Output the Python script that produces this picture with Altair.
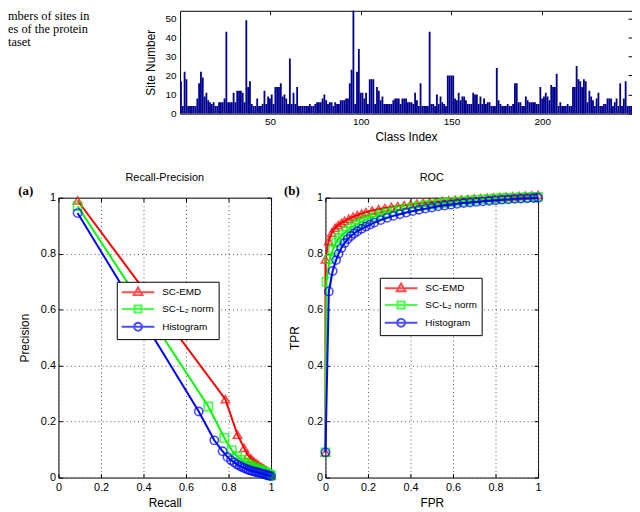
import altair as alt
import pandas as pd

FONT = "Liberation Sans"
SERIF = "Liberation Serif"

# ---------------- data ----------------
caption_lines = ["mbers of sites in", "es of the protein", "taset"]

site_counts = [
    17, 4, 22, 18, 4, 4, 4, 4, 4, 8,
    16, 22, 19, 9, 11, 7, 6, 5, 6, 4,
    4, 6, 6, 6, 8, 43, 6, 6, 6, 11,
    6, 12, 12, 12, 11, 6, 49, 14, 17, 5,
    4, 4, 8, 4, 4, 5, 12, 5, 9, 8,
    10, 5, 14, 14, 14, 16, 9, 10, 8, 5,
    29, 5, 11, 5, 14, 4, 4, 4, 4, 4,
    4, 5, 4, 4, 5, 6, 6, 6, 8, 10,
    7, 5, 6, 6, 4, 6, 5, 5, 7, 7,
    7, 8, 8, 16, 23, 58, 5, 22, 34, 11,
    11, 8, 11, 5, 18, 18, 18, 5, 14, 12,
    7, 9, 5, 5, 5, 5, 5, 7, 8, 8,
    8, 5, 8, 8, 8, 6, 6, 6, 5, 11,
    7, 4, 16, 4, 4, 4, 4, 43, 5, 5,
    4, 10, 5, 9, 6, 5, 4, 20, 20, 20,
    20, 8, 7, 11, 7, 9, 9, 7, 5, 5,
    5, 11, 10, 10, 5, 9, 5, 8, 5, 6,
    6, 4, 4, 4, 24, 7, 5, 4, 4, 4,
    5, 4, 4, 5, 16, 16, 6, 6, 4, 4,
    9, 7, 6, 6, 6, 6, 5, 5, 14, 8,
    9, 11, 9, 7, 15, 14, 14, 21, 4, 6,
    4, 4, 4, 5, 4, 4, 14, 14, 25, 18,
    17, 14, 18, 17, 6, 12, 9, 7, 4, 8,
    11, 4, 4, 5, 5, 8, 8, 8, 4, 6,
    8, 4, 16, 4, 8, 17, 4, 4, 4,
]
class_index = list(range(1, len(site_counts) + 1))
bar_x_ticks = [50, 100, 150, 200]
bar_y_ticks = [0, 10, 20, 30, 40, 50]

series_names = ["SC-EMD", "SC-L\u2082 norm", "Histogram"]

# Recall-Precision
pr_recall = [
    [0.09, 0.785, 0.842, 0.873, 0.891, 0.906, 0.919, 0.93, 0.94, 0.949, 0.957,
     0.964, 0.97, 0.976, 0.981, 0.986, 0.99, 0.994, 0.997, 1.0],
    [0.09, 0.705, 0.78, 0.815, 0.84, 0.86, 0.877, 0.892, 0.905, 0.917, 0.928,
     0.938, 0.947, 0.955, 0.963, 0.97, 0.977, 0.983, 0.989, 0.994, 1.0],
    [0.09, 0.66, 0.733, 0.772, 0.795, 0.812, 0.827, 0.84, 0.852, 0.863, 0.873,
     0.883, 0.893, 0.903, 0.913, 0.923, 0.933, 0.943, 0.953, 0.963, 0.973,
     0.982, 0.991, 1.0],
]
pr_precision = [
    [0.99, 0.28, 0.153, 0.106, 0.08, 0.068, 0.058, 0.051, 0.045, 0.04, 0.036,
     0.032, 0.029, 0.026, 0.023, 0.02, 0.017, 0.014, 0.011, 0.008],
    [0.97, 0.254, 0.142, 0.098, 0.076, 0.063, 0.054, 0.047, 0.042, 0.037, 0.033,
     0.03, 0.027, 0.024, 0.021, 0.019, 0.016, 0.014, 0.011, 0.009, 0.007],
    [0.945, 0.236, 0.133, 0.094, 0.073, 0.062, 0.054, 0.047, 0.042, 0.038, 0.034,
     0.031, 0.028, 0.025, 0.023, 0.021, 0.019, 0.017, 0.015, 0.013, 0.011,
     0.009, 0.007, 0.005],
]

# ROC
roc_fpr = [
    [0.0, 0.0, 0.015, 0.03, 0.045, 0.06, 0.075, 0.09, 0.11, 0.13, 0.15, 0.17,
     0.19, 0.22, 0.25, 0.28, 0.31, 0.34, 0.37, 0.40, 0.43, 0.46, 0.49, 0.52,
     0.55, 0.58, 0.61, 0.64, 0.67, 0.70, 0.73, 0.76, 0.79, 0.82, 0.85, 0.88,
     0.91, 0.94, 0.97, 1.0],
    [0.0, 0.005, 0.02, 0.035, 0.05, 0.065, 0.08, 0.1, 0.12, 0.14, 0.16, 0.18,
     0.2, 0.23, 0.26, 0.29, 0.32, 0.35, 0.38, 0.41, 0.44, 0.47, 0.5, 0.53,
     0.56, 0.59, 0.62, 0.65, 0.68, 0.71, 0.74, 0.77, 0.8, 0.83, 0.86, 0.89,
     0.92, 0.95, 0.98, 1.0],
    [0.0, 0.016, 0.034, 0.05, 0.062, 0.075, 0.09, 0.105, 0.12, 0.135, 0.15,
     0.17, 0.19, 0.21, 0.23, 0.26, 0.29, 0.32, 0.35, 0.38, 0.41, 0.44, 0.47,
     0.5, 0.53, 0.56, 0.59, 0.62, 0.65, 0.68, 0.71, 0.74, 0.77, 0.8, 0.83,
     0.86, 0.89, 0.92, 0.95, 0.98, 1.0],
]
roc_tpr = [
    [0.09, 0.78, 0.845, 0.875, 0.892, 0.902, 0.91, 0.917, 0.925, 0.932, 0.938,
     0.943, 0.948, 0.954, 0.959, 0.963, 0.967, 0.97, 0.973, 0.976, 0.979,
     0.982, 0.984, 0.986, 0.988, 0.99, 0.992, 0.994, 0.995, 0.997, 0.998, 1.0,
     1.001, 1.002, 1.004, 1.005, 1.006, 1.007, 1.008, 1.01],
    [0.09, 0.70, 0.78, 0.815, 0.84, 0.856, 0.868, 0.88, 0.892, 0.902, 0.91,
     0.918, 0.925, 0.933, 0.94, 0.946, 0.951, 0.956, 0.961, 0.965, 0.969,
     0.972, 0.975, 0.978, 0.981, 0.984, 0.986, 0.988, 0.99, 0.992, 0.994,
     0.995, 0.997, 0.998, 0.999, 1.0, 1.001, 1.002, 1.003, 1.003],
    [0.09, 0.665, 0.738, 0.777, 0.80, 0.82, 0.838, 0.852, 0.863, 0.872, 0.88,
     0.889, 0.897, 0.904, 0.911, 0.92, 0.928, 0.935, 0.941, 0.947, 0.952,
     0.957, 0.961, 0.965, 0.969, 0.972, 0.975, 0.978, 0.981, 0.983, 0.985,
     0.987, 0.989, 0.991, 0.993, 0.994, 0.996, 0.997, 0.998, 0.999, 1.0],
]
panel_ticks = [0, 0.2, 0.4, 0.6, 0.8, 1]

# ---------------- styles ----------------
COLORS = ["#ff0000", "#00ff00", "#0000ff"]
SHAPES = ["triangle-up", "square", "circle"]
LEG_PATHS = [
    "M-1,0L5,0M2,-0.85L2.8,0.55L1.2,0.55Z",
    "M-1,0L5,0M1.35,-0.65L2.65,-0.65L2.65,0.65L1.35,0.65Z",
    "M-1,0L5,0M2.72,0A0.72,0.72,0,1,1,1.28,0A0.72,0.72,0,1,1,2.72,0Z",
]
BAR_COLOR = "#00008f"

BW, BH = 457, 104
PW, PH = 215, 283


def tick_axis(orient, offset, values):
    return alt.Axis(orient=orient, offset=offset, values=values, labels=False,
                    domain=False, grid=False, ticks=True, tickSize=4,
                    tickColor="black", tickWidth=1, title=None)


# ---------------- caption cell ----------------
caption = alt.Chart(pd.DataFrame({"txt": ["\n".join(caption_lines)]})).mark_text(
    align="left", baseline="alphabetic", lineBreak="\n", lineHeight=13.5,
    font=SERIF, fontSize=12.5, color="black"
).encode(
    text="txt:N", x=alt.value(-51), y=alt.value(9)
).properties(width=68, height=BH)

# ---------------- bar chart ----------------
bar_df = pd.DataFrame({"cls": class_index, "site": site_counts})
bx = alt.Scale(domain=[0.5, len(site_counts) + 0.5], nice=False, zero=False)
by = alt.Scale(domain=[0, 54], nice=False)

bars = alt.Chart(bar_df).transform_calculate(
    x0="datum.cls - 0.5", x1="datum.cls + 0.5"
).mark_rect(color=BAR_COLOR, clip=True).encode(
    x=alt.X("x0:Q", scale=bx, axis=alt.Axis(
        values=bar_x_ticks, title="Class Index", ticks=False, domain=False,
        grid=False, labelPadding=3, titlePadding=5, labelFontSize=10,
        titleFontSize=12)),
    x2="x1:Q",
    y=alt.Y("site:Q", scale=by, axis=alt.Axis(
        values=bar_y_ticks, title="Site Number", ticks=False, domain=False,
        grid=False, labelPadding=4, titlePadding=8, labelFontSize=10,
        titleFontSize=12)),
    y2=alt.datum(0),
)
bar_ticks = alt.Chart(bar_df).mark_point(opacity=0).encode(
    x=alt.X("cls:Q", scale=bx, axis=tick_axis("bottom", -BH, bar_x_ticks)),
    y=alt.Y("site:Q", scale=by, axis=tick_axis("left", -BW, bar_y_ticks)),
)
bar_chart = alt.layer(bars, bar_ticks).resolve_axis(
    x="independent", y="independent"
).properties(width=BW, height=BH,
             view=alt.ViewBackground(stroke="black", strokeWidth=1))


# ---------------- curve panels ----------------
def panel(xs_list, ys_list, xtitle, ytitle, title, tag, legx, legy, ytpad, tagx):
    sx = alt.Scale(domain=[0, 1], nice=False, zero=False)
    sy = alt.Scale(domain=[0, 1], nice=False, zero=False)
    grid_kw = dict(grid=True, gridDash=[1, 3], gridColor="#555", gridWidth=1)
    main_x = alt.Axis(values=panel_ticks, format="~g", title=xtitle, ticks=False,
                      domain=False, labelPadding=4, titlePadding=5,
                      labelFontSize=11, titleFontSize=12, **grid_kw)
    main_y = alt.Axis(values=panel_ticks, format="~g", title=ytitle, ticks=False,
                      domain=False, labelPadding=3, titlePadding=ytpad,
                      labelFontSize=11, titleFontSize=12, **grid_kw)
    axes = [
        (main_x, main_y),
        (tick_axis("bottom", -PH, panel_ticks), tick_axis("left", -PW, panel_ticks)),
        (tick_axis("top", -PH, panel_ticks), tick_axis("right", -PW, panel_ticks)),
    ]
    layers = []
    for k, name in enumerate(series_names):
        sub = pd.DataFrame({"x": xs_list[k], "y": ys_list[k],
                            "idx": list(range(len(xs_list[k])))})
        ax_x, ax_y = axes[k]
        line = alt.Chart(sub).mark_line(color=COLORS[k], strokeWidth=2).encode(
            x=alt.X("x:Q", scale=sx, axis=ax_x),
            y=alt.Y("y:Q", scale=sy, axis=ax_y),
            order=alt.Order("idx:Q"),
        )
        pts = alt.Chart(sub).mark_point(
            shape=SHAPES[k], filled=False, color=COLORS[k], size=70, strokeWidth=1.6
        ).encode(
            x=alt.X("x:Q", scale=sx, axis=None),
            y=alt.Y("y:Q", scale=sy, axis=None),
        )
        layers += [line, pts]

    leg = alt.Legend(title=None, orient="none", legendX=legx, legendY=legy,
                     fillColor="white", strokeColor="black", padding=4,
                     labelFont=FONT, labelFontSize=10, labelColor="black",
                     symbolSize=121, symbolStrokeWidth=2, rowPadding=1,
                     labelOffset=29)
    leg_df = pd.DataFrame({"series": series_names, "x": [0.5] * 3, "y": [0.5] * 3})
    legend_layer = alt.Chart(leg_df).transform_filter("false").mark_point(
        filled=False
    ).encode(
        x=alt.X("x:Q", scale=sx, axis=None),
        y=alt.Y("y:Q", scale=sy, axis=None),
        color=alt.Color("series:N", scale=alt.Scale(domain=series_names, range=COLORS),
                        legend=leg),
        shape=alt.Shape("series:N", scale=alt.Scale(domain=series_names, range=LEG_PATHS),
                        legend=leg),
    )
    tag_layer = alt.Chart(pd.DataFrame({"tag": [tag]})).mark_text(
        font=SERIF, fontSize=13, fontWeight="bold", color="black"
    ).encode(text="tag:N", x=alt.value(tagx), y=alt.value(-7))

    return alt.layer(*layers, legend_layer, tag_layer).resolve_axis(
        x="independent", y="independent"
    ).properties(
        width=PW, height=PH,
        title=alt.TitleParams(title, fontSize=11, fontWeight="normal", font=FONT,
                              color="black", offset=2, anchor="middle"),
        view=alt.ViewBackground(stroke="black", strokeWidth=1),
    )


pr_chart = panel(pr_recall, pr_precision, "Recall", "Precision", "Recall-Precision",
                 "(a)", 59, 85, 9, -33)
roc_chart = panel(roc_fpr, roc_tpr, "FPR", "TPR", "ROC", "(b)", 55, 81, 6, -34)

top_row = alt.hconcat(caption, bar_chart, spacing=55, bounds="flush")
bottom_row = alt.hconcat(pr_chart, roc_chart, spacing=55, bounds="flush").resolve_scale(
    color="independent", shape="independent"
).resolve_legend(color="independent", shape="independent")

# flush bounds treat the nested row as zero-height, so the row gap includes it
chart = alt.vconcat(
    top_row, bottom_row, spacing=BH + 85, bounds="flush",
).resolve_scale(
    color="independent", shape="independent"
).resolve_legend(
    color="independent", shape="independent"
).properties(
    padding={"left": 51, "top": 0, "right": 580, "bottom": 504},
    autosize=alt.AutoSizeParams(type="none"),
).configure(
    font=FONT
).configure_view(
    stroke="transparent"
).configure_axis(
    labelFont=FONT, titleFont=FONT, labelColor="black", titleColor="black",
    titleFontWeight="normal", labelFlush=False, labelOverlap=False,
)

chart.save("out.html", embed_options={"renderer": "svg", "actions": False})
